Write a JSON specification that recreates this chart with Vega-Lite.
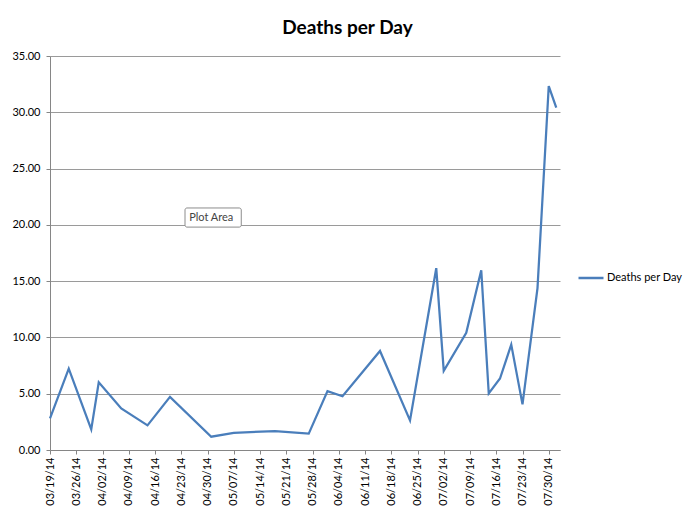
{
  "$schema": "https://vega.github.io/schema/vega-lite/v6.json",
  "width": 510,
  "height": 394,
  "autosize": "none",
  "padding": {"left": 50, "top": 56, "right": 139, "bottom": 66},
  "background": "white",
  "title": {"text": "Deaths per Day", "font": "Lato", "fontSize": 19, "fontWeight": "bold", "color": "#000000", "anchor": "middle", "frame": "bounds", "offset": 12},
  "datasets": {
    "series": [
      {"date": "2014-03-19", "deaths": 2.81},
      {"date": "2014-03-24", "deaths": 7.23},
      {"date": "2014-03-30", "deaths": 1.83},
      {"date": "2014-04-01", "deaths": 6.02},
      {"date": "2014-04-07", "deaths": 3.69},
      {"date": "2014-04-14", "deaths": 2.19},
      {"date": "2014-04-20", "deaths": 4.72},
      {"date": "2014-05-01", "deaths": 1.18},
      {"date": "2014-05-07", "deaths": 1.53},
      {"date": "2014-05-18", "deaths": 1.68},
      {"date": "2014-05-27", "deaths": 1.45},
      {"date": "2014-06-01", "deaths": 5.23},
      {"date": "2014-06-05", "deaths": 4.78},
      {"date": "2014-06-15", "deaths": 8.8},
      {"date": "2014-06-23", "deaths": 2.63},
      {"date": "2014-06-30", "deaths": 16.15},
      {"date": "2014-07-02", "deaths": 7.03},
      {"date": "2014-07-08", "deaths": 10.42},
      {"date": "2014-07-12", "deaths": 15.97},
      {"date": "2014-07-14", "deaths": 5.02},
      {"date": "2014-07-17", "deaths": 6.35},
      {"date": "2014-07-20", "deaths": 9.36},
      {"date": "2014-07-23", "deaths": 4.05},
      {"date": "2014-07-27", "deaths": 14.38},
      {"date": "2014-07-30", "deaths": 32.33},
      {"date": "2014-08-01", "deaths": 30.41}
    ],
    "note": [
      {"label": "Plot Area", "start": "2014-04-24", "end": "2014-05-09", "mid": "2014-05-01", "low": 19.8, "high": 21.5, "center": 20.65}
    ]
  },
  "layer": [
    {
      "data": {"name": "note"},
      "mark": {"type": "rect", "fill": "white", "stroke": "#8c8c8c", "strokeWidth": 1, "cornerRadius": 2},
      "encoding": {
        "x": {"field": "start", "type": "temporal", "title": null},
        "x2": {"field": "end"},
        "y": {"field": "low", "type": "quantitative", "title": null},
        "y2": {"field": "high"}
      }
    },
    {
      "data": {"name": "note"},
      "mark": {"type": "text", "font": "Lato", "fontSize": 11, "color": "#444444", "align": "center", "baseline": "middle"},
      "encoding": {
        "x": {"field": "mid", "type": "temporal", "title": null},
        "y": {"field": "center", "type": "quantitative", "title": null},
        "text": {"field": "label"}
      }
    },
    {
      "data": {"name": "series"},
      "mark": {"type": "line", "strokeWidth": 2.25, "interpolate": "linear"},
      "encoding": {
        "x": {
          "field": "date", "type": "temporal", "title": null,
          "scale": {"type": "utc", "domain": [{"year": 2014, "month": 3, "date": 19, "utc": true}, {"year": 2014, "month": 8, "date": 2, "utc": true}]},
          "axis": {
            "values": [
              {"year": 2014, "month": 3, "date": 19, "utc": true},
              {"year": 2014, "month": 3, "date": 26, "utc": true},
              {"year": 2014, "month": 4, "date": 2, "utc": true},
              {"year": 2014, "month": 4, "date": 9, "utc": true},
              {"year": 2014, "month": 4, "date": 16, "utc": true},
              {"year": 2014, "month": 4, "date": 23, "utc": true},
              {"year": 2014, "month": 4, "date": 30, "utc": true},
              {"year": 2014, "month": 5, "date": 7, "utc": true},
              {"year": 2014, "month": 5, "date": 14, "utc": true},
              {"year": 2014, "month": 5, "date": 21, "utc": true},
              {"year": 2014, "month": 5, "date": 28, "utc": true},
              {"year": 2014, "month": 6, "date": 4, "utc": true},
              {"year": 2014, "month": 6, "date": 11, "utc": true},
              {"year": 2014, "month": 6, "date": 18, "utc": true},
              {"year": 2014, "month": 6, "date": 25, "utc": true},
              {"year": 2014, "month": 7, "date": 2, "utc": true},
              {"year": 2014, "month": 7, "date": 9, "utc": true},
              {"year": 2014, "month": 7, "date": 16, "utc": true},
              {"year": 2014, "month": 7, "date": 23, "utc": true},
              {"year": 2014, "month": 7, "date": 30, "utc": true}
            ],
            "tickCount": 30,
            "format": "%m/%d/%y",
            "labelAngle": -90,
            "labelFont": "Lato",
            "labelFontSize": 11,
            "labelColor": "#000000",
            "labelPadding": 3,
            "labelOverlap": false,
            "labelFlush": false,
            "tickColor": "#868686",
            "tickSize": 4,
            "domainColor": "#868686",
            "grid": false
          }
        },
        "y": {
          "field": "deaths", "type": "quantitative", "title": null,
          "scale": {"domain": [0, 35], "nice": false, "zero": true},
          "axis": {
            "values": [0, 5, 10, 15, 20, 25, 30, 35],
            "tickCount": 10,
            "format": ".2f",
            "labelFont": "Lato",
            "labelFontSize": 11,
            "labelColor": "#000000",
            "labelPadding": 6,
            "labelFlush": false,
            "tickColor": "#868686",
            "tickSize": 4,
            "domainColor": "#868686",
            "grid": true,
            "gridColor": "#9a9a9a",
            "gridWidth": 1
          }
        },
        "color": {
          "datum": "Deaths per Day",
          "scale": {"range": ["#4a7ebb"]},
          "legend": {
            "title": null,
            "orient": "none",
            "legendX": 527,
            "legendY": 208,
            "symbolType": "stroke",
            "symbolSize": 625,
            "symbolStrokeWidth": 2.5,
            "labelFont": "Lato",
            "labelFontSize": 11,
            "labelColor": "#000000",
            "labelOffset": 2
          }
        }
      }
    }
  ],
  "config": {
    "view": {"stroke": null},
    "axis": {"labelOverlap": false, "labelFlush": false}
  }
}
